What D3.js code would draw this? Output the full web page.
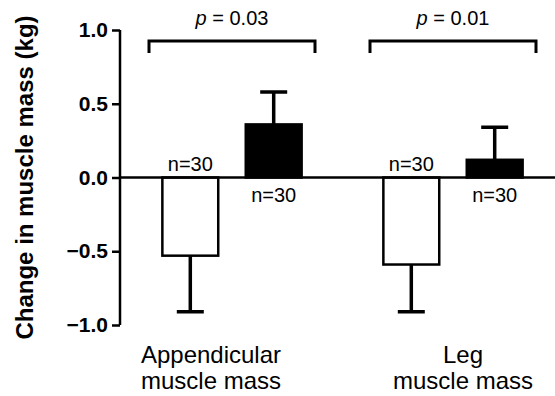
<!DOCTYPE html>
<html>
<head>
<meta charset="utf-8">
<script src="https://cdn.jsdelivr.net/npm/d3@7"></script>
<style>
  body { margin: 0; background: #fff; }
  svg { display: block; font-family: "Liberation Sans", Arial, sans-serif; }
</style>
</head>
<body>
<svg id="chart" width="555" height="396"></svg>
<script>
// data
var groups = ["Appendicular muscle mass", "Leg muscle mass"];
var groupLines = [["Appendicular", "muscle mass"], ["Leg", "muscle mass"]];
var series = ["control", "intervention"];
var means = [[-0.53, 0.36], [-0.59, 0.12]];
var errors = [[0.38, 0.22], [0.32, 0.22]];
var nLabels = [["n=30", "n=30"], ["n=30", "n=30"]];
var pValues = ["0.03", "0.01"];
var yTicks = [-1.0, -0.5, 0.0, 0.5, 1.0];
var fills = ["#fff", "#000"];

var svg = d3.select("#chart");

var y = d3.scaleLinear().domain([-1, 1]).range([325, 30]);
var x0 = d3.scaleBand().domain(groups).range([121.5, 563.5]);
var x1 = d3.scaleBand().domain(series).range([0, x0.bandwidth()])
  .paddingInner(0.33).paddingOuter(0.49);

var axisX = 120;

// y axis
var yAxis = d3.axisLeft(y).tickValues(yTicks).tickSize(8).tickPadding(4)
  .tickFormat(d3.format(".1f"));
var gy = svg.append("g").attr("transform", "translate(" + axisX + ",0)").call(yAxis);
gy.select(".domain").attr("stroke-width", 2.5).attr("d", "M0," + y(-1) + "V" + y(1));
gy.selectAll(".tick line").attr("stroke-width", 2.5);
gy.selectAll(".tick text")
  .style("font-family", "'Liberation Sans', Arial, sans-serif")
  .style("font-size", "21px").style("font-weight", "bold").attr("fill", "#000");

svg.append("text")
  .attr("transform", "translate(33," + y(0) + ") rotate(-90)")
  .attr("text-anchor", "middle")
  .style("font-size", "24px").style("font-weight", "bold")
  .text("Change in muscle mass (kg)");

// bars
var bars = [];
groups.forEach(function (g, gi) {
  series.forEach(function (s, si) {
    bars.push({ g: g, gi: gi, s: s, si: si, v: means[gi][si], e: errors[gi][si], n: nLabels[gi][si] });
  });
});

function cx(d) { return x0(d.g) + x1(d.s) + x1.bandwidth() / 2; }

// error bars (drawn behind bars)
var capW = 27;
svg.selectAll(".err").data(bars).enter().append("path")
  .attr("class", "err")
  .attr("fill", "none").attr("stroke", "#000").attr("stroke-width", 3.5)
  .attr("d", function (d) {
    var end = d.v < 0 ? d.v - d.e : d.v + d.e;
    return "M" + cx(d) + "," + y(d.v) + "V" + y(end) +
      "M" + (cx(d) - capW / 2) + "," + y(end) + "H" + (cx(d) + capW / 2);
  });

svg.selectAll(".bar").data(bars).enter().append("rect")
  .attr("class", "bar")
  .attr("x", function (d) { return x0(d.g) + x1(d.s); })
  .attr("width", x1.bandwidth())
  .attr("y", function (d) { return Math.min(y(d.v), y(0)); })
  .attr("height", function (d) { return Math.abs(y(d.v) - y(0)); })
  .attr("fill", function (d) { return fills[d.si]; })
  .attr("stroke", "#000").attr("stroke-width", 2.5);

// zero line across the plot
svg.append("line")
  .attr("x1", axisX).attr("x2", 555)
  .attr("y1", y(0)).attr("y2", y(0))
  .attr("stroke", "#000").attr("stroke-width", 2.5);

// n labels: above line for negative bars, below for positive
svg.selectAll(".nlab").data(bars).enter().append("text")
  .attr("class", "nlab")
  .attr("x", cx)
  .attr("y", function (d) { return d.v < 0 ? y(0) - 7 : y(0) + 24; })
  .attr("text-anchor", "middle")
  .style("font-size", "20px")
  .text(function (d) { return d.n; });

// significance brackets
groups.forEach(function (g, gi) {
  var c = x0(g) + x0.bandwidth() / 2;
  var half = 83;
  svg.append("path")
    .attr("fill", "none").attr("stroke", "#000").attr("stroke-width", 3)
    .attr("d", "M" + (c - half) + ",53V41H" + (c + half) + "V53");
  var t = svg.append("text")
    .attr("x", c).attr("y", 25)
    .attr("text-anchor", "middle")
    .style("font-size", "20px");
  t.append("tspan").style("font-style", "italic").text("p");
  t.append("tspan").text(" = " + pValues[gi]);
});

// category labels
var labelShift = [-21, 10];
groups.forEach(function (g, gi) {
  var c = x0(g) + x0.bandwidth() / 2 + labelShift[gi];
  var t = svg.append("text").attr("text-anchor", "middle").style("font-size", "24px");
  groupLines[gi].forEach(function (line, li) {
    t.append("tspan").attr("x", c).attr("y", 363 + li * 26).text(line);
  });
});
</script>
</body>
</html>
